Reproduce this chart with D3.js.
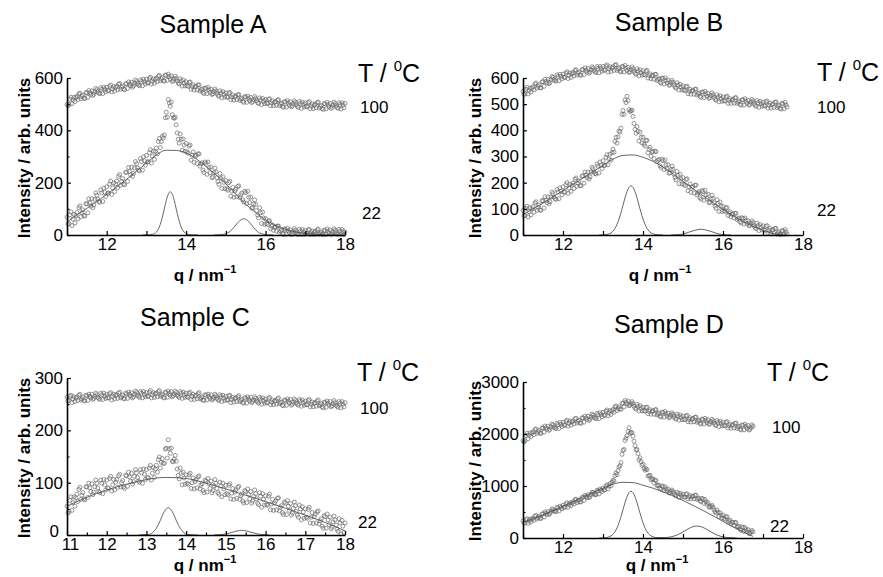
<!DOCTYPE html>
<html>
<head>
<meta charset="utf-8">
<script src="https://cdn.jsdelivr.net/npm/d3@7"></script>
<style>
  body { margin: 0; background: #fff; }
  svg { display: block; font-family: "Liberation Sans", Arial, sans-serif; }
</style>
</head>
<body>
<svg id="chart" width="883" height="577"></svg>
<script>
// q grid of the measured data: one point every 0.05 nm^-1 from 11,
// the "Mid" arrays hold the points that sit half a step later
const Q_START = 11;
const Q_STEP = 0.05;

// Sample A
const aHot = [
  499, 499, 526, 516, 510, 530, 539, 521, 534, 521,
  544, 552, 537, 533, 548, 555, 542, 563, 540, 556,
  565, 551, 573, 558, 550, 568, 576, 557, 569, 555,
  578, 585, 570, 565, 580, 586, 573, 593, 570, 586,
  595, 581, 603, 588, 580, 599, 607, 589, 601, 588,
  610, 615, 596, 587, 597, 599, 581, 597, 569, 581,
  586, 568, 585, 567, 554, 569, 573, 550, 558, 541,
  560, 564, 545, 537, 548, 551, 534, 551, 524, 538,
  543, 526, 545, 527, 516, 531, 536, 514, 523, 507,
  527, 531, 513, 506, 518, 522, 506, 524, 498, 512,
  518, 502, 521, 504, 494, 510, 515, 494, 504, 488,
  508, 514, 496, 490, 502, 507, 491, 510, 484, 499,
  505, 490, 510, 493, 483, 500, 506, 485, 495, 480,
  501, 507, 490, 484, 497, 502, 487, 506, 481, 496,
  503
];
const aHotMid = [
  493, 519, 502, 526, 525, 518, 542, 529, 523, 544,
  526, 544, 551, 538, 560, 547, 540, 557, 565, 547,
  552, 568, 547, 567, 564, 555, 579, 564, 558, 578,
  560, 577, 584, 570, 592, 578, 571, 587, 595, 577,
  582, 598, 577, 597, 594, 586, 610, 596, 590, 611,
  591, 605, 608, 590, 607, 589, 577, 589, 592, 570,
  571, 583, 557, 574, 566, 554, 574, 555, 545, 562,
  540, 554, 557, 540, 558, 541, 530, 543, 548, 527,
  528, 542, 517, 535, 528, 517, 537, 520, 511, 529,
  507, 522, 526, 510, 529, 513, 503, 517, 522, 502,
  504, 518, 494, 512, 507, 496, 517, 500, 492, 510,
  489, 505, 509, 494, 513, 498, 488, 503, 508, 489,
  491, 506, 483, 501, 496, 486, 508, 491, 483, 502,
  482, 498, 503, 488, 508, 493, 484, 499, 505, 486
];
const aCold = [
  68, 43, 88, 61, 46, 86, 104, 70, 96, 72,
  120, 138, 110, 104, 136, 152, 128, 172, 128, 164,
  184, 160, 206, 180, 166, 206, 224, 190, 216, 192,
  240, 258, 230, 224, 256, 272, 248, 292, 248, 284,
  304, 280, 326, 301, 289, 332, 357, 334, 377, 382,
  469, 518, 492, 460, 446, 421, 366, 386, 324, 344,
  350, 312, 344, 305, 278, 305, 310, 263, 276, 239,
  274, 279, 238, 219, 238, 241, 204, 235, 178, 201,
  208, 171, 205, 168, 144, 175, 185, 143, 160, 126,
  162, 167, 124, 102, 118, 117, 76, 104, 44, 65,
  62, 40, 54, 33, 18, 31, 34, 11, 19, 2,
  21, 26, 8, 1, 14, 18, 3, 22, 2, 12,
  17, 5, 21, 8, 2, 14, 19, 3, 11, 1,
  17, 23, 6, 2, 13, 18, 3, 22, 2, 12,
  12
];
const aColdMid = [
  42, 77, 36, 79, 75, 61, 111, 85, 75, 119,
  85, 123, 139, 115, 161, 137, 125, 161, 179, 147,
  159, 195, 155, 199, 195, 181, 231, 205, 195, 239,
  205, 243, 259, 235, 281, 257, 245, 281, 299, 267,
  279, 315, 275, 321, 319, 310, 369, 357, 370, 448,
  450, 504, 508, 448, 450, 390, 351, 366, 367, 320,
  318, 340, 286, 317, 300, 273, 310, 271, 248, 279,
  232, 257, 260, 223, 256, 219, 194, 217, 222, 177,
  176, 200, 148, 182, 168, 146, 188, 153, 134, 167,
  120, 144, 145, 105, 134, 93, 65, 85, 87, 41,
  44, 53, 24, 38, 29, 15, 34, 16, 6, 23,
  3, 16, 20, 5, 24, 9, 2, 15, 21, 2,
  5, 20, 2, 16, 11, 3, 23, 7, 3, 18,
  2, 14, 19, 4, 24, 9, 3, 15, 21, 2
];
const aFit = [[11, 50], [11.5, 102], [12, 155], [12.5, 213], [13, 275], [13.25, 306], [13.5, 324],
  [13.75, 323], [14, 314], [14.5, 262], [15, 195], [15.5, 118], [16, 58], [16.5, 22], [17, 6], [17.5, 1], [18, 0]];
const aPeak1 = [[12.9, 0], [13.1, 1], [13.15, 2], [13.2, 5], [13.25, 11], [13.3, 22], [13.35, 41], [13.4, 68],
  [13.45, 100], [13.5, 132], [13.55, 156], [13.6, 165], [13.65, 156], [13.7, 132], [13.75, 100], [13.8, 68],
  [13.85, 41], [13.9, 22], [13.95, 11], [14, 5], [14.05, 2], [14.1, 1], [14.3, 0]];
const aPeak2 = [[14.7, 0], [14.85, 1], [14.95, 3], [15.05, 8], [15.15, 20], [15.25, 38], [15.35, 55], [15.45, 62],
  [15.55, 55], [15.65, 38], [15.75, 20], [15.85, 8], [15.95, 3], [16.05, 1], [16.2, 0]];

// Sample B (measured up to 17.6 nm^-1)
const bHot = [
  549, 539, 564, 552, 546, 567, 577, 561, 574, 562,
  586, 595, 581, 578, 594, 602, 590, 612, 589, 606,
  615, 602, 624, 610, 602, 621, 629, 611, 623, 610,
  632, 639, 623, 618, 632, 638, 624, 644, 620, 636,
  644, 630, 650, 635, 625, 643, 649, 629, 639, 623,
  643, 648, 629, 621, 632, 635, 618, 635, 608, 621,
  628, 611, 629, 610, 597, 611, 614, 591, 598, 580,
  598, 601, 581, 572, 582, 584, 566, 582, 554, 566,
  570, 552, 569, 550, 538, 553, 557, 535, 543, 526,
  545, 549, 530, 522, 533, 536, 519, 536, 509, 522,
  528, 512, 531, 514, 503, 519, 524, 503, 512, 496,
  516, 521, 503, 496, 508, 512, 496, 514, 488, 502,
  508, 493, 512, 496, 485, 502, 507, 487, 496, 481,
  501, 507, 489
];
const bHotMid = [
  537, 557, 539, 562, 561, 555, 581, 568, 563, 585,
  568, 587, 595, 583, 606, 594, 588, 606, 614, 597,
  602, 619, 598, 619, 616, 608, 632, 618, 612, 632,
  613, 630, 636, 622, 643, 629, 621, 637, 644, 626,
  630, 646, 623, 643, 638, 629, 651, 635, 626, 644,
  623, 638, 641, 624, 642, 625, 614, 627, 631, 611,
  613, 626, 600, 616, 608, 595, 614, 595, 584, 600,
  577, 590, 592, 574, 591, 573, 561, 573, 576, 554,
  554, 566, 540, 557, 550, 538, 558, 540, 530, 547,
  525, 539, 542, 525, 543, 526, 515, 528, 532, 511,
  513, 527, 503, 521, 515, 504, 525, 508, 499, 517,
  496, 511, 515, 499, 518, 502, 492, 506, 511, 492,
  494, 509, 485, 504, 498, 488, 509, 493, 484, 503,
  482, 497
];
const bCold = [
  94, 74, 110, 89, 77, 108, 122, 94, 114, 94,
  131, 146, 124, 119, 145, 158, 139, 174, 139, 168,
  184, 164, 200, 179, 167, 198, 213, 186, 207, 188,
  226, 241, 219, 214, 240, 253, 235, 271, 237, 267,
  284, 267, 307, 291, 286, 328, 358, 351, 397, 408,
  476, 516, 530, 479, 475, 453, 404, 414, 359, 373,
  374, 340, 362, 327, 301, 319, 320, 280, 289, 258,
  284, 287, 253, 236, 250, 251, 220, 243, 196, 214,
  219, 189, 215, 184, 163, 185, 190, 153, 165, 137,
  166, 171, 139, 123, 138, 140, 110, 135, 90, 109,
  110, 90, 105, 84, 69, 81, 83, 59, 65, 46,
  63, 65, 44, 35, 45, 47, 29, 45, 17, 30,
  35, 18, 36, 18, 6, 21, 25, 3, 12, 2,
  16, 21, 4
];
const bColdMid = [
  74, 102, 69, 104, 100, 88, 127, 105, 96, 131,
  103, 133, 146, 127, 164, 145, 136, 165, 180, 154,
  164, 192, 159, 194, 190, 178, 218, 197, 189, 225,
  198, 228, 241, 222, 259, 241, 233, 263, 279, 254,
  265, 297, 268, 309, 314, 316, 373, 375, 394, 461,
  461, 506, 514, 472, 477, 426, 389, 396, 393, 352,
  347, 361, 314, 335, 317, 292, 319, 285, 265, 289,
  250, 268, 269, 238, 263, 232, 211, 228, 232, 195,
  194, 212, 169, 195, 182, 161, 191, 160, 143, 170,
  133, 153, 156, 126, 152, 122, 102, 121, 126, 90,
  93, 103, 75, 89, 79, 65, 83, 63, 51, 66,
  42, 54, 55, 37, 54, 36, 24, 36, 40, 19,
  20, 33, 8, 25, 18, 6, 26, 8, 2, 17,
  3, 12
];
const bFit = [[11, 78], [11.5, 122], [12, 170], [12.5, 218], [13, 266], [13.25, 290], [13.5, 304], [13.75, 306],
  [14, 297], [14.5, 260], [15, 205], [15.5, 150], [16, 98], [16.5, 52], [17, 18], [17.3, 4], [17.6, 0]];
const bPeak1 = [[12.9, 0], [13.1, 2], [13.15, 4], [13.2, 8], [13.25, 15], [13.3, 25], [13.35, 41], [13.4, 61],
  [13.45, 86], [13.5, 114], [13.55, 142], [13.6, 166], [13.65, 182], [13.7, 188], [13.75, 182], [13.8, 166],
  [13.85, 142], [13.9, 114], [13.95, 86], [14, 61], [14.05, 41], [14.1, 25], [14.15, 15], [14.2, 8],
  [14.25, 4], [14.3, 2], [14.5, 0]];
const bPeak2 = [[14.7, 0], [14.85, 1], [15, 4], [15.15, 11], [15.3, 18], [15.45, 22], [15.6, 18], [15.75, 11],
  [15.9, 4], [16.05, 1], [16.2, 0]];

// Sample C
const cHot = [
  263, 257, 267, 260, 255, 264, 267, 258, 263, 256,
  266, 269, 262, 259, 265, 268, 261, 271, 259, 266,
  269, 262, 272, 265, 260, 268, 271, 262, 267, 260,
  270, 273, 265, 262, 269, 272, 265, 274, 262, 269,
  272, 265, 276, 268, 263, 271, 274, 265, 269, 262,
  272, 275, 267, 264, 269, 272, 265, 274, 261, 268,
  271, 263, 273, 265, 259, 267, 270, 260, 264, 257,
  267, 269, 261, 258, 263, 266, 259, 268, 255, 262,
  265, 258, 267, 259, 254, 262, 264, 255, 259, 252,
  261, 264, 256, 253, 258, 261, 254, 263, 250, 257,
  260, 253, 263, 254, 249, 257, 260, 251, 254, 247,
  257, 260, 252, 248, 254, 257, 250, 259, 246, 253,
  256, 249, 259, 250, 245, 253, 256, 247, 251, 243,
  253, 256, 248, 245, 251, 253, 246, 255, 243, 250,
  253
];
const cHotMid = [
  256, 265, 253, 264, 262, 257, 269, 260, 257, 267,
  257, 265, 269, 261, 271, 263, 259, 268, 271, 261,
  262, 270, 258, 269, 267, 261, 273, 264, 261, 271,
  261, 269, 272, 264, 275, 267, 263, 271, 274, 264,
  265, 273, 262, 272, 270, 264, 276, 267, 263, 273,
  263, 271, 274, 266, 275, 267, 263, 271, 273, 263,
  264, 271, 259, 269, 266, 260, 272, 262, 258, 268,
  258, 265, 268, 260, 269, 261, 257, 265, 267, 257,
  258, 266, 253, 263, 261, 255, 266, 257, 253, 263,
  252, 260, 263, 255, 264, 256, 252, 260, 262, 252,
  253, 261, 249, 258, 256, 250, 262, 253, 248, 258,
  248, 256, 259, 250, 260, 252, 248, 256, 258, 248,
  249, 257, 245, 254, 252, 246, 258, 249, 245, 254,
  244, 252, 255, 247, 257, 248, 244, 252, 255, 245
];
const cCold = [
  55, 45, 73, 62, 55, 78, 87, 68, 81, 67,
  92, 99, 83, 77, 92, 99, 83, 105, 79, 96,
  105, 89, 112, 96, 86, 106, 113, 92, 104, 89,
  113, 120, 103, 97, 112, 119, 103, 125, 99, 116,
  125, 109, 133, 118, 110, 133, 144, 128, 146, 137,
  166, 182, 156, 141, 145, 141, 114, 128, 96, 109,
  115, 97, 118, 100, 88, 106, 111, 88, 98, 81,
  103, 108, 89, 81, 94, 99, 81, 101, 73, 88,
  95, 77, 98, 80, 68, 86, 91, 68, 78, 61,
  83, 88, 69, 61, 74, 79, 61, 81, 53, 68,
  75, 57, 78, 59, 47, 65, 70, 46, 56, 39,
  61, 66, 47, 38, 51, 56, 38, 57, 29, 44,
  50, 32, 53, 34, 22, 40, 44, 21, 31, 13,
  35, 40, 20, 12, 25, 29, 11, 31, 2, 17,
  23
];
const cColdMid = [
  42, 66, 47, 73, 71, 64, 91, 76, 69, 92,
  72, 90, 98, 82, 105, 90, 81, 99, 106, 86,
  90, 108, 84, 106, 101, 91, 116, 100, 92, 114,
  93, 111, 118, 102, 125, 110, 101, 119, 126, 106,
  110, 128, 105, 129, 126, 120, 149, 139, 137, 164,
  147, 165, 166, 140, 152, 126, 107, 118, 120, 97,
  99, 115, 89, 109, 102, 90, 113, 95, 85, 105,
  82, 98, 103, 85, 106, 89, 78, 94, 99, 77,
  79, 95, 69, 89, 82, 70, 93, 75, 65, 85,
  62, 78, 83, 65, 86, 69, 58, 74, 79, 57,
  58, 74, 48, 68, 61, 48, 71, 53, 43, 63,
  39, 55, 60, 42, 63, 45, 34, 50, 54, 32,
  34, 49, 23, 43, 35, 23, 46, 27, 17, 37,
  13, 29, 34, 15, 36, 19, 7, 23, 28, 5
];
const cFit = [[11, 55], [11.5, 72], [12, 86], [12.5, 97], [13, 106], [13.5, 110], [14, 108], [14.5, 99],
  [15, 88], [15.5, 76], [16, 64], [16.5, 51], [17, 38], [17.5, 24], [18, 8]];
const cPeak1 = [[12.8, 0], [13, 1], [13.05, 1], [13.1, 2], [13.15, 4], [13.2, 8], [13.25, 13], [13.3, 20],
  [13.35, 28], [13.4, 37], [13.45, 45], [13.5, 50], [13.55, 52], [13.6, 50], [13.65, 45], [13.7, 37],
  [13.75, 28], [13.8, 20], [13.85, 13], [13.9, 8], [13.95, 4], [14, 2], [14.05, 1], [14.3, 0]];
const cPeak2 = [[14.7, 0], [14.9, 1], [15, 2], [15.1, 4], [15.2, 6], [15.3, 8], [15.4, 9], [15.5, 8],
  [15.6, 6], [15.7, 4], [15.8, 2], [15.9, 1], [16.1, 0]];

// Sample D (measured up to 16.75 nm^-1)
const dHot = [
  1870, 1873, 2013, 1976, 1951, 2042, 2085, 2010, 2066, 2012,
  2117, 2153, 2087, 2070, 2138, 2171, 2113, 2209, 2107, 2184,
  2225, 2168, 2268, 2205, 2169, 2254, 2291, 2210, 2263, 2205,
  2309, 2344, 2277, 2260, 2328, 2361, 2303, 2399, 2297, 2374,
  2415, 2361, 2463, 2406, 2376, 2470, 2518, 2450, 2519, 2477,
  2597, 2643, 2582, 2545, 2583, 2586, 2498, 2569, 2442, 2497,
  2516, 2438, 2518, 2436, 2381, 2447, 2466, 2367, 2402, 2327,
  2414, 2432, 2348, 2313, 2363, 2379, 2304, 2383, 2264, 2324,
  2348, 2275, 2359, 2281, 2230, 2300, 2322, 2226, 2264, 2191,
  2280, 2300, 2218, 2185, 2237, 2254, 2180, 2260, 2142, 2203,
  2228, 2155, 2239, 2161, 2111, 2182, 2205, 2110, 2149, 2077,
  2167, 2188, 2107, 2075, 2128, 2146
];
const dHotMid = [
  1843, 1970, 1910, 2022, 2016, 1988, 2100, 2043, 2018, 2116,
  2036, 2118, 2150, 2093, 2193, 2136, 2105, 2182, 2220, 2144,
  2168, 2245, 2152, 2246, 2232, 2197, 2304, 2242, 2214, 2309,
  2228, 2309, 2340, 2283, 2383, 2326, 2295, 2372, 2410, 2334,
  2360, 2439, 2350, 2449, 2443, 2418, 2537, 2489, 2478, 2588,
  2521, 2610, 2635, 2553, 2623, 2536, 2477, 2530, 2544, 2446,
  2448, 2505, 2392, 2467, 2434, 2380, 2469, 2389, 2344, 2422,
  2324, 2388, 2402, 2327, 2409, 2335, 2287, 2347, 2368, 2275,
  2283, 2344, 2235, 2314, 2285, 2235, 2327, 2250, 2207, 2287,
  2191, 2257, 2273, 2200, 2284, 2211, 2164, 2225, 2247, 2155,
  2163, 2224, 2115, 2195, 2167, 2118, 2211, 2135, 2093, 2174,
  2079, 2146, 2163, 2091, 2176
];
const dCold = [
  332, 289, 371, 329, 308, 383, 419, 363, 414, 376,
  465, 501, 456, 451, 513, 546, 509, 592, 520, 589,
  630, 593, 679, 639, 620, 696, 733, 678, 730, 693,
  783, 821, 778, 774, 837, 871, 835, 919, 848, 919,
  962, 929, 1024, 998, 1003, 1113, 1199, 1218, 1364, 1451,
  1685, 1876, 1966, 2120, 2031, 1958, 1775, 1702, 1504, 1467,
  1422, 1304, 1314, 1203, 1118, 1133, 1114, 1008, 1014, 936,
  987, 986, 906, 865, 893, 894, 827, 882, 784, 827,
  844, 784, 849, 789, 750, 806, 821, 742, 766, 696,
  747, 741, 651, 597, 609, 592, 505, 538, 416, 437,
  442, 364, 409, 328, 268, 303, 301, 208, 222, 147,
  201, 202, 124, 85, 115, 118
];
const dColdMid = [
  287, 351, 283, 364, 361, 340, 433, 391, 378, 460,
  405, 476, 510, 473, 559, 522, 507, 576, 613, 562,
  588, 657, 592, 675, 674, 654, 748, 707, 695, 778,
  724, 797, 832, 796, 883, 847, 833, 903, 942, 893,
  922, 997, 944, 1046, 1074, 1095, 1251, 1294, 1391, 1608,
  1703, 1919, 2047, 2014, 2024, 1861, 1695, 1623, 1544, 1397,
  1339, 1330, 1191, 1206, 1141, 1063, 1103, 1014, 958, 1001,
  909, 944, 942, 870, 923, 855, 811, 853, 864, 788,
  790, 837, 752, 815, 794, 753, 824, 757, 715, 762,
  667, 694, 680, 594, 630, 543, 478, 497, 485, 387,
  379, 407, 301, 343, 301, 241, 297, 218, 168, 214,
  124, 161, 161, 91, 146
];
const dFit = [[11, 300], [11.5, 445], [12, 612], [12.5, 790], [13, 960], [13.25, 1035], [13.5, 1072],
  [13.75, 1065], [14, 1015], [14.5, 890], [15, 720], [15.5, 530], [16, 320], [16.5, 120], [16.75, 30]];
const dPeak1 = [[12.9, 0], [13.1, 10], [13.15, 21], [13.2, 40], [13.25, 72], [13.3, 122], [13.35, 195],
  [13.4, 292], [13.45, 412], [13.5, 546], [13.55, 680], [13.6, 794], [13.65, 872], [13.7, 900], [13.75, 872],
  [13.8, 794], [13.85, 680], [13.9, 546], [13.95, 412], [14, 292], [14.05, 195], [14.1, 122], [14.15, 72],
  [14.2, 40], [14.25, 21], [14.3, 10], [14.5, 0]];
const dPeak2 = [[14.35, 0], [14.45, 3], [14.55, 7], [14.65, 15], [14.75, 31], [14.85, 57], [14.95, 95],
  [15.05, 140], [15.15, 184], [15.25, 218], [15.35, 230], [15.45, 218], [15.55, 184], [15.65, 140],
  [15.75, 95], [15.85, 57], [15.95, 31], [16.05, 15], [16.15, 7], [16.25, 3], [16.35, 0]];

const xTicks = [11, 12, 13, 14, 15, 16, 17, 18];

const panels = [
  { title: "Sample A", series: [aHot, aHotMid, aCold, aColdMid], fits: [aFit, aPeak1, aPeak2],
    left: 67, right: 345, top: 78, bottom: 235, yMax: 600,
    yLabels: [0, 200, 400, 600], yMinor: [100, 300, 500], everyX: false, xMinor: [],
    titlePos: [213, 33], tPos: [358, 82], hotPos: [360, 113], coldPos: [362, 219],
    yTitlePos: [24, 158], xTitlePos: [205, 281] },
  { title: "Sample B", series: [bHot, bHotMid, bCold, bColdMid], fits: [bFit, bPeak1, bPeak2],
    left: 523, right: 803, top: 78, bottom: 235, yMax: 600,
    yLabels: [0, 100, 200, 300, 400, 500, 600], yMinor: [], everyX: false, xMinor: [],
    titlePos: [669, 31], tPos: [817, 81], hotPos: [817, 113], coldPos: [817, 216],
    yTitlePos: [475, 158], xTitlePos: [660, 281] },
  { title: "Sample C", series: [cHot, cHotMid, cCold, cColdMid], fits: [cFit, cPeak1, cPeak2],
    left: 67, right: 345, top: 378, bottom: 535, yMax: 300,
    yLabels: [0, 100, 200, 300], yMinor: [50, 150, 250], everyX: true,
    xMinor: [11.5, 12.5, 13.5, 14.5, 15.5, 16.5, 17.5],
    titlePos: [195, 326], tPos: [357, 381], hotPos: [360, 414], coldPos: [358, 528],
    yTitlePos: [24, 458], xTitlePos: [205, 571] },
  { title: "Sample D", series: [dHot, dHotMid, dCold, dColdMid], fits: [dFit, dPeak1, dPeak2],
    left: 523, right: 803, top: 382, bottom: 538, yMax: 3000,
    yLabels: [0, 1000, 2000, 3000], yMinor: [500, 1500, 2500], everyX: false, xMinor: [],
    titlePos: [669, 333], tPos: [767, 381], hotPos: [772, 433], coldPos: [770, 532],
    yTitlePos: [475, 461], xTitlePos: [657, 571] }
];

const svg = d3.select("#chart");

function drawPanel(p) {
  const x = d3.scaleLinear().domain([11, 18]).range([p.left, p.right]);
  const y = d3.scaleLinear().domain([0, p.yMax]).range([p.bottom, p.top]);
  const g = svg.append("g");

  // measured points, open circles; every second array is shifted by half a step
  p.series.forEach((series, k) => {
    const q0 = Q_START + (k % 2) * Q_STEP / 2;
    g.append("g").selectAll("circle")
      .data(series)
      .join("circle")
      .attr("cx", (d, i) => x(q0 + i * Q_STEP))
      .attr("cy", d => y(d))
      .attr("r", 2)
      .attr("fill", "none")
      .attr("stroke", "#6a6a6a")
      .attr("stroke-width", 0.7);
  });

  // fitted curves
  const line = d3.line()
    .x(d => x(d[0]))
    .y(d => y(d[1]))
    .curve(d3.curveMonotoneX);
  p.fits.forEach(f => {
    g.append("path")
      .attr("d", line(f))
      .attr("fill", "none")
      .attr("stroke", "#555")
      .attr("stroke-width", 0.9);
  });

  // axes, ticks pointing inwards
  const xAxis = g.append("g")
    .attr("transform", `translate(0,${p.bottom})`)
    .call(d3.axisBottom(x)
      .tickValues(xTicks)
      .tickSizeInner(-4)
      .tickSizeOuter(0)
      .tickPadding(3)
      .tickFormat(d => (p.everyX || d % 2 === 0) ? d : ""));
  if (p.xMinor.length) {
    g.append("g")
      .attr("transform", `translate(0,${p.bottom})`)
      .call(d3.axisBottom(x).tickValues(p.xMinor).tickSizeInner(-2.5).tickSizeOuter(0).tickFormat(""))
      .select(".domain").remove();
  }
  const yAxis = g.append("g")
    .attr("transform", `translate(${p.left},0)`)
    .call(d3.axisLeft(y)
      .tickValues(p.yLabels)
      .tickSizeInner(-4)
      .tickSizeOuter(0)
      .tickPadding(4)
      .tickFormat(d3.format("d")));
  if (p.yMinor.length) {
    g.append("g")
      .attr("transform", `translate(${p.left},0)`)
      .call(d3.axisLeft(y).tickValues(p.yMinor).tickSizeInner(-2.5).tickSizeOuter(0).tickFormat(""))
      .select(".domain").remove();
  }
  [xAxis, yAxis].forEach(a => {
    a.select(".domain").attr("stroke", "#000").attr("stroke-width", 1.6);
    a.selectAll(".tick text")
      .attr("font-family", "Liberation Sans, Arial, sans-serif")
      .attr("font-size", 17)
      .attr("fill", "#000");
  });
  g.selectAll(".tick line").attr("stroke", "#000").attr("stroke-width", 1.2);
  // when every x value is labelled, the y "0" and the x "11" meet in the corner: pull them apart
  if (p.everyX) {
    yAxis.selectAll(".tick text").filter(d => d === 0).attr("x", -8).attr("dy", "0.1em");
    xAxis.selectAll(".tick text").filter(d => d === 11).attr("dx", 3);
  }

  // titles and labels
  g.append("text")
    .attr("x", p.titlePos[0]).attr("y", p.titlePos[1])
    .attr("text-anchor", "middle")
    .attr("font-size", 25)
    .text(p.title);

  const t = g.append("text")
    .attr("x", p.tPos[0]).attr("y", p.tPos[1])
    .attr("font-size", 25);
  t.append("tspan").text("T / ");
  t.append("tspan").attr("font-size", 15).attr("dy", -11).text("0");
  t.append("tspan").attr("dy", 11).text("C");

  g.append("text")
    .attr("x", p.hotPos[0]).attr("y", p.hotPos[1])
    .attr("font-size", 17)
    .text("100");
  g.append("text")
    .attr("x", p.coldPos[0]).attr("y", p.coldPos[1])
    .attr("font-size", 17)
    .text("22");

  g.append("text")
    .attr("transform", `translate(${p.yTitlePos[0]},${p.yTitlePos[1]}) rotate(-90)`)
    .attr("text-anchor", "middle")
    .attr("dy", "0.35em")
    .attr("font-size", 17)
    .attr("font-weight", "bold")
    .text("Intensity / arb. units");

  const xt = g.append("text")
    .attr("x", p.xTitlePos[0]).attr("y", p.xTitlePos[1])
    .attr("text-anchor", "middle")
    .attr("font-size", 17)
    .attr("font-weight", "bold");
  xt.append("tspan").text("q / nm");
  xt.append("tspan").attr("font-size", 11).attr("dy", -8).text("\u22121");
}

panels.forEach(drawPanel);
</script>
</body>
</html>
